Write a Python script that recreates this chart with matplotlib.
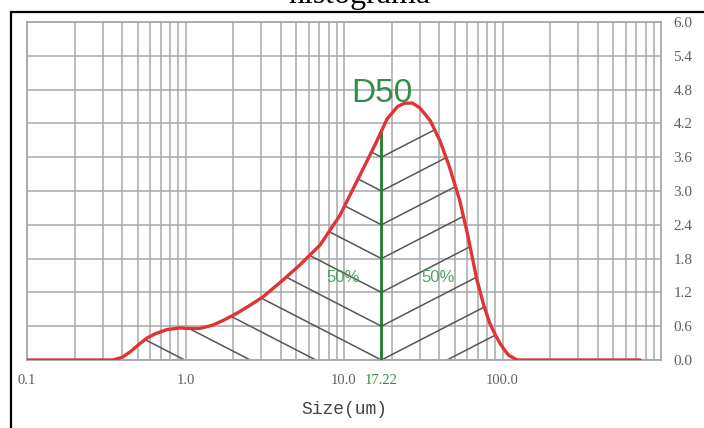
import matplotlib
matplotlib.use('Agg')
import matplotlib.pyplot as plt
import matplotlib.transforms as mtransforms
from matplotlib.patches import Polygon, Rectangle
import numpy as np

# 数据
size_um = [0.1, 0.349, 0.40, 0.45, 0.50, 0.571, 0.65, 0.764, 0.923, 1.05, 1.234, 1.49,
           1.75, 2.11, 2.55, 3.08, 4.12, 5.28, 7.06, 9.43, 12.6, 15.7, 18.7, 21.8, 24.2,
           27.0, 30.0, 35.0, 40.2, 46.0, 53.6, 60.0, 68.6, 76.0, 82.9, 90.0, 96.2,
           104.0, 110.0, 124.0, 740.0]
volume_pct = [0.0, 0.0, 0.05, 0.15, 0.26, 0.39, 0.47, 0.54, 0.57, 0.56, 0.56, 0.62,
              0.71, 0.83, 0.97, 1.12, 1.42, 1.69, 2.04, 2.57, 3.28, 3.82, 4.28, 4.50, 4.56,
              4.56, 4.48, 4.25, 3.90, 3.45, 2.84, 2.25, 1.45, 0.98, 0.66, 0.45, 0.30,
              0.16, 0.08, 0.0, 0.0]
d50 = 17.22
x_ticks = [0.1, 1.0, 10.0, d50, 100.0]
x_ticklabels = ['0.1', '1.0', '10.0', '17.22', '100.0']
y_ticks = [0.0, 0.6, 1.2, 1.8, 2.4, 3.0, 3.6, 4.2, 4.8, 5.4, 6.0]

fig = plt.figure(figsize=(7.04, 4.28), dpi=100)
ax = fig.add_axes([27/704, 1 - 360/428, 634/704, 338/428])
ax.set_xscale('log')
ax.set_xlim(0.1, 1000)
ax.set_ylim(0, 6)

grid_c = '#a8a8a8'
tick_c = '#606060'
minor = [m * 10.0**e for e in range(-1, 3) for m in range(2, 10)]
ax.set_xticks(minor, minor=True)
ax.set_xticks(x_ticks)
ax.set_xticklabels(x_ticklabels, family='Liberation Serif', fontsize=10.5, color=tick_c)
ax.get_xticklabels()[3].set_color('#2f8f46')
ax.xaxis.set_minor_formatter(plt.NullFormatter())
ax.yaxis.tick_right()
ax.set_yticks(y_ticks)
ax.set_yticklabels([f'{v:.1f}' for v in y_ticks], family='Liberation Serif',
                   fontsize=11, color=tick_c)
shift = mtransforms.ScaledTranslation(0, -3/100, fig.dpi_scale_trans)
for lab in ax.get_yticklabels():
    lab.set_transform(lab.get_transform() + shift)
ax.tick_params(which='both', length=0)
ax.tick_params(axis='y', pad=9)
ax.tick_params(axis='x', pad=10)
ax.grid(which='both', axis='x', color=grid_c, lw=1.1)
ax.grid(axis='y', color=grid_c, lw=1.1)
# 17.22 只是标签，不画网格线
ax.get_xgridlines()[3].set_visible(False)
for s in ax.spines.values():
    s.set_color(grid_c)
    s.set_linewidth(1.3)

# 斜线填充（D50 两侧的人字形）
lx = np.log10(size_um)
l50 = np.log10(d50)
y50 = np.interp(l50, lx, volume_pct)
slope = 1.45  # 每十倍程的高度
left_verts = [(x, y) for x, y in zip(size_um, volume_pct) if x < d50] + [(d50, y50), (d50, 0), (0.1, 0)]
right_verts = [(d50, 0), (d50, y50)] + [(x, y) for x, y in zip(size_um, volume_pct) if x > d50] + [(740, 0)]
left_clip = Polygon(left_verts, closed=True, transform=ax.transData)
right_clip = Polygon(right_verts, closed=True, transform=ax.transData)
span = 3.0
for k in range(-10, 8):
    y0 = 0.6 * k
    if y0 > y50:
        continue
    ln, = ax.plot([d50, 10**(l50 - span)], [y0, y0 + slope * span], color='#555555', lw=1.1)
    ln.set_clip_path(left_clip)
    rn, = ax.plot([d50, 10**(l50 + span)], [y0, y0 + slope * span], color='#555555', lw=1.1)
    rn.set_clip_path(right_clip)

ax.plot(size_um, volume_pct, color='#e03434', lw=2.4, solid_capstyle='round',
        solid_joinstyle='round', zorder=5)
ax.vlines(d50, 0, y50, color='#1f7d2a', lw=2, zorder=4)

ax.text(d50, 4.58, 'D50', ha='center', va='baseline', fontsize=24,
        family='Liberation Sans', color='#2f8f46', zorder=6)
ax.text(9.9, 1.47, '50%', ha='center', va='center', fontsize=12,
        family='Liberation Sans', color='#3d9a55', alpha=0.9)
ax.text(39.0, 1.47, '50%', ha='center', va='center', fontsize=12,
        family='Liberation Sans', color='#3d9a55', alpha=0.9)

ax.set_xlabel('Size(um)', family='Liberation Mono', fontsize=13, color='#444444', labelpad=10)

# 外框和被截断的标题
fig.patches.append(Rectangle((11/704, -0.2), 1.2, 1.2 - 12/428,
                             transform=fig.transFigure, fill=False, ec='black', lw=1.6))
fig.text(0.511, 1 - 3.5/428, 'histograma', ha='center', va='baseline',
         family='Liberation Serif', fontsize=23, color='black')

fig.savefig('out.png', dpi=100, facecolor='white')
